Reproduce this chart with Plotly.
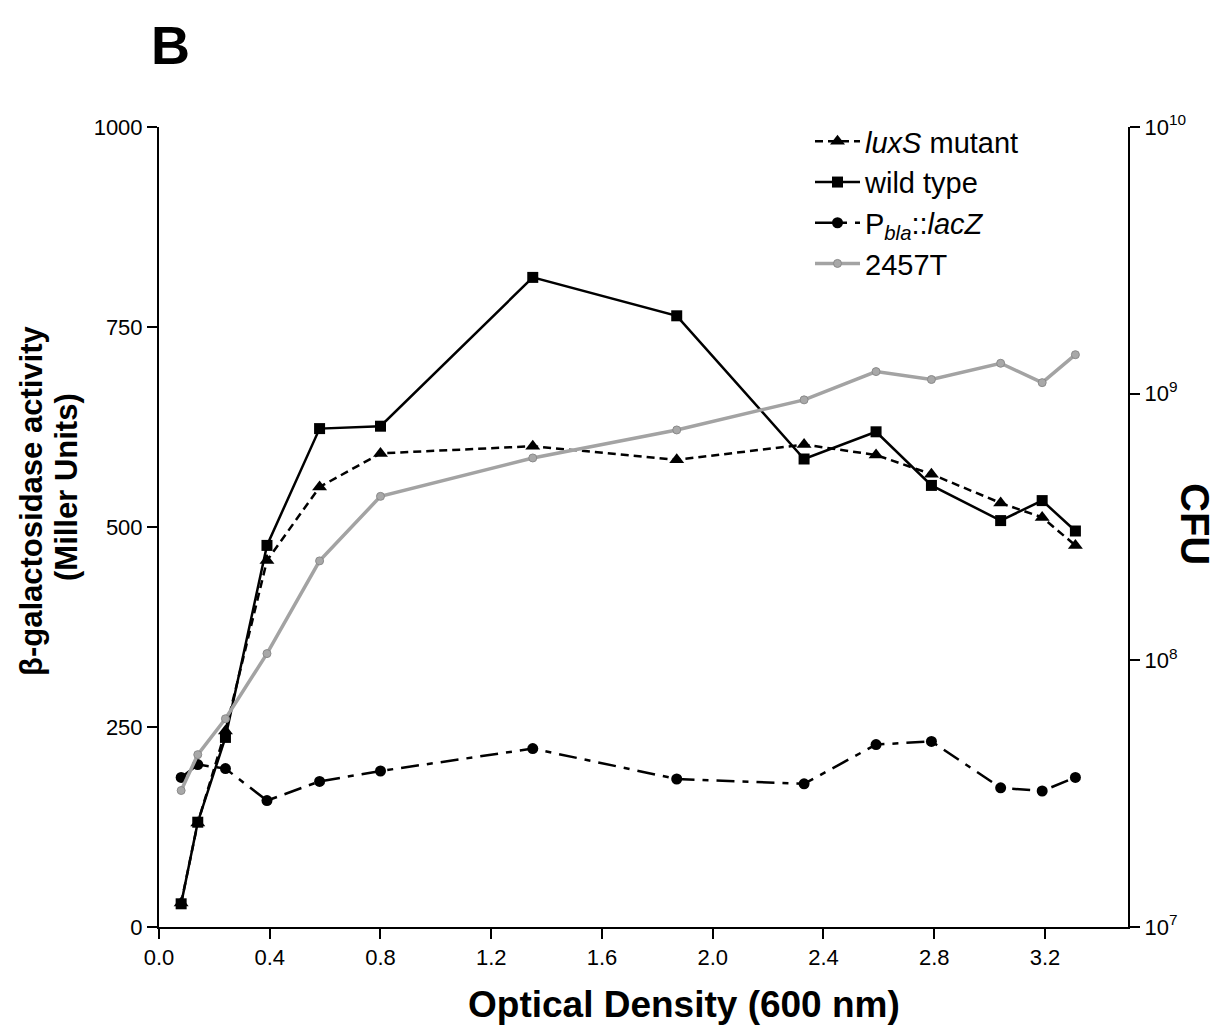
import plotly.graph_objects as go

od = [0.08, 0.14, 0.24, 0.39, 0.58, 0.80, 1.35, 1.87, 2.33, 2.59, 2.79, 3.04, 3.19, 3.31]
luxs_mutant = [30, 130, 245, 458, 550, 592, 601, 584, 603, 590, 566, 530, 512, 477]
wild_type = [29, 131, 237, 477, 623, 626, 812, 764, 585, 619, 552, 508, 533, 495]
pbla_lacz = [187, 203, 198, 158, 182, 195, 223, 185, 179, 228, 232, 174, 170, 187]
cfu_2457t = [3.25e7, 4.43e7, 6.04e7, 1.06e8, 2.36e8, 4.12e8, 5.74e8, 7.31e8, 9.48e8,
             1.21e9, 1.13e9, 1.30e9, 1.10e9, 1.40e9]

x_ticks = [0.0, 0.4, 0.8, 1.2, 1.6, 2.0, 2.4, 2.8, 3.2]
y_ticks = [0, 250, 500, 750, 1000]
y2_ticks = [1e7, 1e8, 1e9, 1e10]
y2_labels = ["10<sup>7</sup>", "10<sup>8</sup>", "10<sup>9</sup>", "10<sup>10</sup>"]

FONT = "Liberation Sans, Arial, sans-serif"

# plot area in page pixels (page has an 8px body margin)
PL, PR, PT, PB = 159, 1128, 127, 927
def px(xp):
    return (xp - PL) / (PR - PL)
def py(yp):
    return (PB - yp) / (PB - PT)

fig = go.Figure()
fig.add_trace(go.Scatter(
    x=od, y=luxs_mutant, name="<i>luxS</i> mutant", mode="lines+markers",
    line=dict(color="black", width=2.5, dash="8px,5px"),
    marker=dict(symbol="triangle-up", size=13, color="black")))
fig.add_trace(go.Scatter(
    x=od, y=wild_type, name="wild type", mode="lines+markers",
    line=dict(color="black", width=2.5),
    marker=dict(symbol="square", size=11, color="black")))
fig.add_trace(go.Scatter(
    x=od, y=pbla_lacz, name="P<sub><i>bla</i></sub>::<i>lacZ</i>", mode="lines+markers",
    line=dict(color="black", width=2.5, dash="18px,8px,6px,8px"),
    marker=dict(symbol="circle", size=11, color="black")))
fig.add_trace(go.Scatter(
    x=od, y=cfu_2457t, name="2457T", mode="lines+markers", yaxis="y2",
    line=dict(color="#a3a3a3", width=3.5),
    marker=dict(symbol="circle", size=8, color="#a8a8a8",
                line=dict(color="#8a8a8a", width=1))))

axis_common = dict(showline=True, linecolor="black", linewidth=2,
                   ticks="outside", ticklen=10, tickwidth=2, tickcolor="black",
                   showgrid=False, zeroline=False, tickfont=dict(size=22))

fig.update_layout(
    width=1211, height=1018,
    paper_bgcolor="white", plot_bgcolor="white",
    margin=dict(l=151, r=91, t=119, b=99),
    font=dict(family=FONT, color="black", size=22),
    showlegend=True,
    legend=dict(x=px(810), y=py(116), xanchor="left", yanchor="top",
                font=dict(size=29, family=FONT), bgcolor="rgba(0,0,0,0)",
                itemwidth=45),
    xaxis=dict(range=[0, 3.5], tickvals=x_ticks, tickformat=".1f", **axis_common),
    yaxis=dict(range=[0, 1000], tickvals=y_ticks, **axis_common),
    yaxis2=dict(type="log", range=[7, 10], overlaying="y", side="right",
                tickvals=y2_ticks, ticktext=y2_labels, **axis_common),
    annotations=[
        dict(text="<b>B</b>", x=px(170), y=py(45), xref="paper", yref="paper",
             xanchor="center", yanchor="middle", showarrow=False,
             font=dict(size=54)),
        dict(text="<b>β-galactosidase activity</b>",
             x=px(31), y=py(501), xref="paper", yref="paper", textangle=-90,
             xanchor="center", yanchor="middle", showarrow=False,
             font=dict(size=31)),
        dict(text="<b>(Miller Units)</b>",
             x=px(67), y=py(487), xref="paper", yref="paper", textangle=-90,
             xanchor="center", yanchor="middle", showarrow=False,
             font=dict(size=31)),
        dict(text="<b>Optical Density (600 nm)</b>", x=px(684), y=py(1005),
             xref="paper", yref="paper", xanchor="center", yanchor="middle",
             showarrow=False, font=dict(size=37)),
        dict(text="<b>CFU</b>", x=px(1195), y=py(524), xref="paper", yref="paper",
             textangle=90, xanchor="center", yanchor="middle",
             showarrow=False, font=dict(size=40)),
    ],
)

fig.write_html("out.html")
